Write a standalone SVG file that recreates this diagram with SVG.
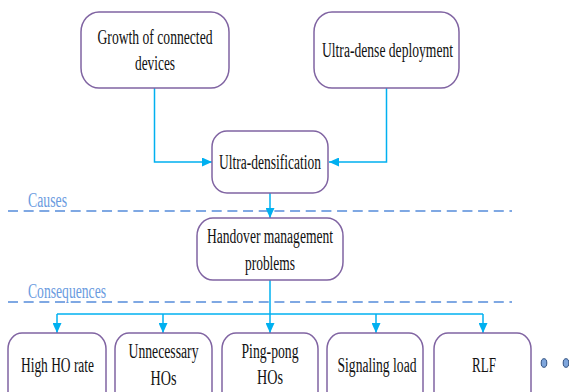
<svg xmlns="http://www.w3.org/2000/svg" width="569" height="392" viewBox="0 0 569 392">
<style>
.box{fill:#fff;stroke:#8064A2;stroke-width:1.5}
.t{font-family:"Liberation Serif","Times New Roman",serif;font-size:20px;fill:#111;text-anchor:middle}
.lbl{font-family:"Liberation Serif","Times New Roman",serif;font-size:20px;fill:#6A9BE0}
.dash{stroke:#7FA8E3;stroke-width:2;stroke-dasharray:10 5.67;fill:none}
.c{stroke:#00B0F0;stroke-width:1.5;fill:none}
.dot{fill:#7FA6DC;stroke:#2F4F7F;stroke-width:1}
</style>
<defs>
<marker id="ah" markerUnits="userSpaceOnUse" markerWidth="10" markerHeight="9" refX="10" refY="4.5" orient="auto">
<path d="M0,0 L10,4.5 L0,9 z" fill="#00B0F0"/>
</marker>
</defs>
<g id="section-lines">
<line class="dash" x1="8" y1="211" x2="512" y2="211"/>
<line class="dash" x1="8" y1="302" x2="512" y2="302"/>
<text class="lbl" x="28" y="207" textLength="39" lengthAdjust="spacingAndGlyphs">Causes</text>
<text class="lbl" x="28" y="298" textLength="78" lengthAdjust="spacingAndGlyphs">Consequences</text>
</g>
<g id="connectors">
<path class="c" d="M154.5 88 V162 H212" marker-end="url(#ah)"/>
<path class="c" d="M386.5 88 V162 H329" marker-end="url(#ah)"/>
<path class="c" d="M270 193 V218" marker-end="url(#ah)"/>
<path class="c" d="M270 280 V333" marker-end="url(#ah)"/>
<path class="c" d="M57 314 H483"/>
<path class="c" d="M57 314 V333" marker-end="url(#ah)"/>
<path class="c" d="M163 314 V333" marker-end="url(#ah)"/>
<path class="c" d="M376 314 V333" marker-end="url(#ah)"/>
<path class="c" d="M483 314 V333" marker-end="url(#ah)"/>
</g>
<g id="growth">
<rect class="box" x="81" y="12" width="148" height="76" rx="18" ry="20"/>
<text class="t" x="155" y="44" textLength="115" lengthAdjust="spacingAndGlyphs">Growth of connected</text>
<text class="t" x="155" y="70" textLength="40" lengthAdjust="spacingAndGlyphs">devices</text>
</g>
<g id="ultradense">
<rect class="box" x="314" y="12" width="145" height="76" rx="18" ry="20"/>
<text class="t" x="387.5" y="57" textLength="131" lengthAdjust="spacingAndGlyphs">Ultra-dense deployment</text>
</g>
<g id="ultradensification">
<rect class="box" x="212" y="131" width="116" height="62" rx="15" ry="16"/>
<text class="t" x="270" y="169" textLength="102" lengthAdjust="spacingAndGlyphs">Ultra-densification</text>
</g>
<g id="handover">
<rect class="box" x="197" y="218" width="146" height="62" rx="16" ry="18"/>
<text class="t" x="270" y="243" textLength="126" lengthAdjust="spacingAndGlyphs">Handover management</text>
<text class="t" x="270" y="270" textLength="50" lengthAdjust="spacingAndGlyphs">problems</text>
</g>
<g id="highho">
<rect class="box" x="8" y="333" width="98" height="80" rx="14" ry="16"/>
<text class="t" x="57.5" y="372" textLength="73" lengthAdjust="spacingAndGlyphs">High HO rate</text>
</g>
<g id="unnecessary">
<rect class="box" x="115" y="333" width="97" height="80" rx="14" ry="16"/>
<text class="t" x="163.5" y="358" textLength="70" lengthAdjust="spacingAndGlyphs">Unnecessary</text>
<text class="t" x="163.5" y="385" textLength="26" lengthAdjust="spacingAndGlyphs">HOs</text>
</g>
<g id="pingpong">
<rect class="box" x="222" y="333" width="96" height="80" rx="14" ry="16"/>
<text class="t" x="270" y="358" textLength="57" lengthAdjust="spacingAndGlyphs">Ping-pong</text>
<text class="t" x="270" y="384" textLength="26" lengthAdjust="spacingAndGlyphs">HOs</text>
</g>
<g id="signaling">
<rect class="box" x="327" y="333" width="96" height="80" rx="14" ry="16"/>
<text class="t" x="377" y="372" textLength="79" lengthAdjust="spacingAndGlyphs">Signaling load</text>
</g>
<g id="rlf">
<rect class="box" x="434" y="333" width="97" height="80" rx="14" ry="16"/>
<text class="t" x="484" y="372" textLength="24" lengthAdjust="spacingAndGlyphs">RLF</text>
</g>
<g id="ellipsis">
<ellipse class="dot" cx="544" cy="363" rx="2.8" ry="4.3"/>
<ellipse class="dot" cx="566" cy="363" rx="2.8" ry="4.3"/>
</g>
</svg>
